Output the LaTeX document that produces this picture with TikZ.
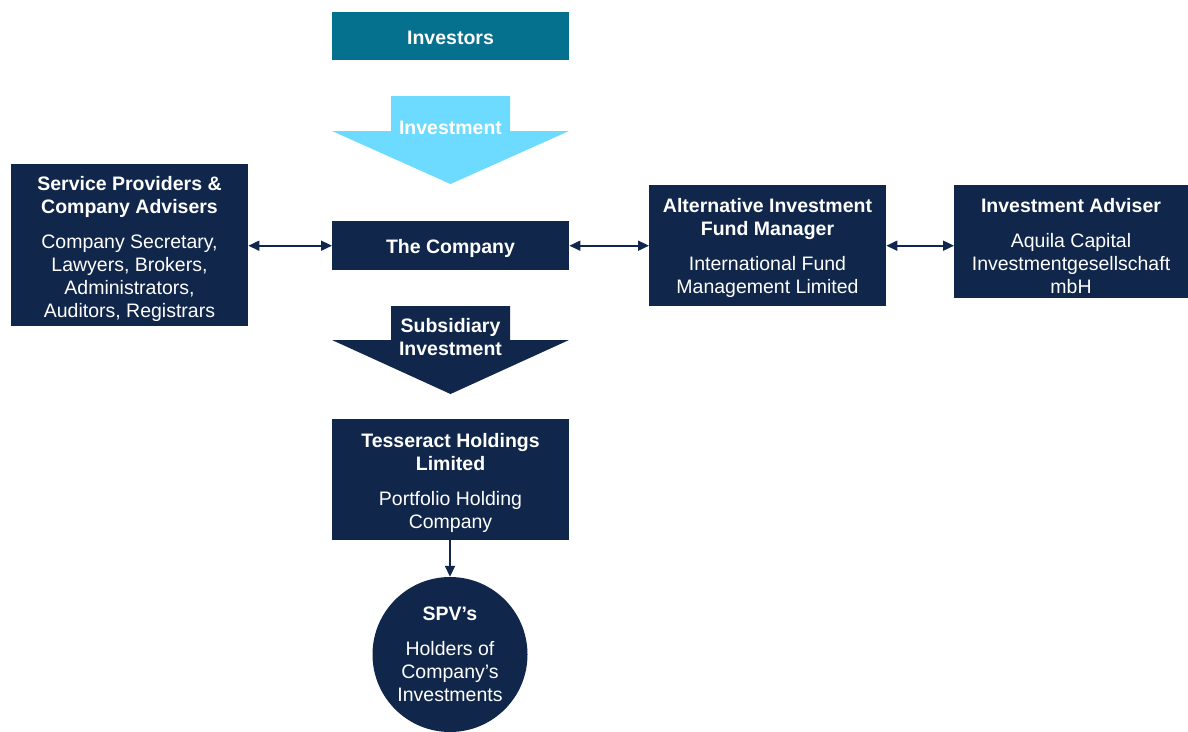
\documentclass[tikz,border=0pt]{standalone}
\usepackage{fontspec}
\setmainfont{Liberation Sans}
\usetikzlibrary{arrows.meta}

\definecolor{navy}{HTML}{10264A}
\definecolor{deepteal}{HTML}{05718F}
\definecolor{skyblue}{HTML}{6DDAFF}

\tikzset{
  txt/.style={font=\fontsize{19.5}{23}\selectfont, text=white, align=center, inner sep=0pt},
  boldtxt/.style={txt, font=\fontsize{19.5}{23}\selectfont\bfseries},
  panel/.style={rectangle, fill=navy, inner sep=0pt, anchor=north west},
  link/.style={draw=navy, line width=1.8pt, {Triangle[length=11pt,width=10pt]}-{Triangle[length=11pt,width=10pt]}},
  down/.style={draw=navy, line width=1.8pt, -{Triangle[length=11pt,width=10pt]}},
}

\begin{document}
\begin{tikzpicture}[x=1pt, y=-1pt]
  \clip (0,0) rectangle (1188,731);
  \fill[white] (0,0) rectangle (1188,731);

  % Investors
  \node[panel, fill=deepteal, minimum width=237pt, minimum height=48pt] (investors) at (332,12) {};
  \node[boldtxt] (investorsT) at (450.5,38) {Investors};

  % Investment arrow
  \fill[skyblue] (391,96) -- (510,96) -- (510,131) -- (569,131) -- (450.5,184)
     -- (332,131) -- (391,131) -- cycle;
  \node[boldtxt] (investmentT) at (450.5,128) {Investment};

  % Service providers
  \node[panel, minimum width=237pt, minimum height=162pt] (sp) at (11,164) {};
  \node[txt] (spT) at (129.5,249) {\textbf{Service Providers \&}\\\textbf{Company Advisers}\\[12pt]Company Secretary,\\Lawyers, Brokers,\\Administrators,\\Auditors, Registrars};

  % The Company
  \node[panel, minimum width=237pt, minimum height=49pt] (company) at (332,221) {};
  \node[boldtxt] (companyT) at (450.5,248.5) {The Company};

  % AIFM
  \node[panel, minimum width=237pt, minimum height=121pt] (aifm) at (649,185) {};
  \node[txt] (aifmT) at (767.5,248) {\textbf{Alternative Investment}\\\textbf{Fund Manager}\\[12pt]International Fund\\Management Limited};

  % Investment adviser
  \node[panel, minimum width=240pt, minimum height=113pt] (adviser) at (954,185) {};
  \node[txt] (adviserT) at (1071,246) {\textbf{Investment Adviser}\\[12pt]Aquila Capital\\Investmentgesellschaft\\mbH};

  % Subsidiary investment arrow
  \fill[navy] (391,306) -- (510,306) -- (510,340) -- (569,340) -- (450.5,394)
     -- (332,340) -- (391,340) -- cycle;
  \node[txt, font=\fontsize{19.5}{23}\selectfont\bfseries] (subT) at (450.5,337.5) {Subsidiary\\Investment};

  % Tesseract
  \node[panel, minimum width=237pt, minimum height=121pt] (tess) at (332,419) {};
  \node[txt] (tessT) at (450.5,482.5) {\textbf{Tesseract Holdings}\\\textbf{Limited}\\[12pt]Portfolio Holding\\Company};

  % SPVs
  \node[circle, fill=navy, minimum size=155pt, inner sep=0pt] (spv) at (450,654.5) {};
  \node[txt] (spvT) at (450,654) {\textbf{SPV’s}\\[12pt]Holders of\\Company’s\\Investments};

  % Connectors
  \draw[link] (sp.east |- company.west) -- (company.west);
  \draw[link] (company.east) -- (aifm.west |- company.east);
  \draw[link] (aifm.east |- company.east) -- (adviser.west |- company.east);
  \draw[down] (tess.south -| spv.north) -- (spv.north);
\end{tikzpicture}
\end{document}
